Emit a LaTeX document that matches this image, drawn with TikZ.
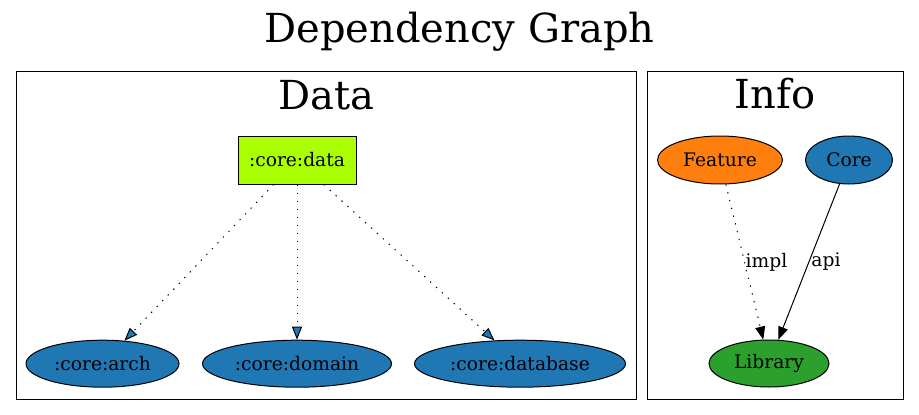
\documentclass[tikz,border=0pt]{standalone}
\usepackage{fontspec}
\setmainfont{DejaVu Serif}
\usetikzlibrary{arrows.meta,shapes.geometric}
\definecolor{tabblue}{HTML}{1F77B4}
\definecolor{taborange}{HTML}{FF7F0E}
\definecolor{tabgreen}{HTML}{2CA02C}
\definecolor{limegreen}{HTML}{AAFF00}
\tikzset{
  bigtext/.style={font=\fontsize{40}{44}\selectfont, anchor=base, inner sep=0pt},
  clusterbox/.style={draw=black, line width=1pt},
  nodetext/.style={font=\fontsize{18.67}{22}\selectfont},
  ellnode/.style={nodetext, draw=black, line width=1pt, ellipse, inner sep=0pt, minimum height=47pt},
  boxnode/.style={nodetext, draw=black, line width=1pt, rectangle, inner sep=0pt, minimum width=118pt, minimum height=48pt, fill=limegreen},
  dotline/.style={line width=1pt, dash pattern=on 1.3pt off 6.7pt},
  bluetip/.style={-{Triangle[length=13pt,width=10pt,fill=tabblue,line width=1pt]}},
  blacktip/.style={-{Triangle[length=13pt,width=10pt,fill=black,line width=1pt]}},
  edgelabel/.style={font=\fontsize{18.67}{22}\selectfont, inner sep=0pt},
}
\begin{document}
\begin{tikzpicture}[x=1pt,y=-1pt]
\useasboundingbox (0,0) rectangle (919,415);
\node[bigtext] (title) at (459.5,42.3) {Dependency Graph};
% clusters
\node[clusterbox, minimum width=620pt, minimum height=328pt, inner sep=0pt] (datacl) at (326,235) {};
\node[clusterbox, minimum width=256pt, minimum height=328pt, inner sep=0pt] (infocl) at (775,235) {};
\node[bigtext] (datalbl) at (326,109) {Data};
\node[bigtext] (infolbl) at (775,108) {Info};
% Data nodes
\node[boxnode] (cdata) at (297,160) {:core:data};
\node[ellnode, fill=tabblue, minimum width=153pt] (arch) at (102.5,363.7) {:core:arch};
\node[ellnode, fill=tabblue, minimum width=189pt] (domain) at (297,363.7) {:core:domain};
\node[ellnode, fill=tabblue, minimum width=211pt] (database) at (520,363.7) {:core:database};
% Info nodes
\node[ellnode, fill=taborange, minimum width=125pt, minimum height=48pt] (feature) at (720,160) {Feature};
\node[ellnode, fill=tabblue, minimum width=87pt, minimum height=48pt] (core) at (849,160) {Core};
\node[ellnode, fill=tabgreen, minimum width=120pt] (library) at (769,363.5) {Library};
% edges
\draw[dotline, bluetip] (cdata) -- (arch);
\draw[dotline, bluetip] (cdata) -- (domain);
\draw[dotline, bluetip] (cdata) -- (database);
\draw[dotline, blacktip] (feature) -- (library);
\draw[line width=1pt, blacktip] (core) -- (library);
\node[edgelabel] (impl) at (766.5,262) {impl};
\node[edgelabel] (api) at (826,262) {api};
\end{tikzpicture}
\end{document}
